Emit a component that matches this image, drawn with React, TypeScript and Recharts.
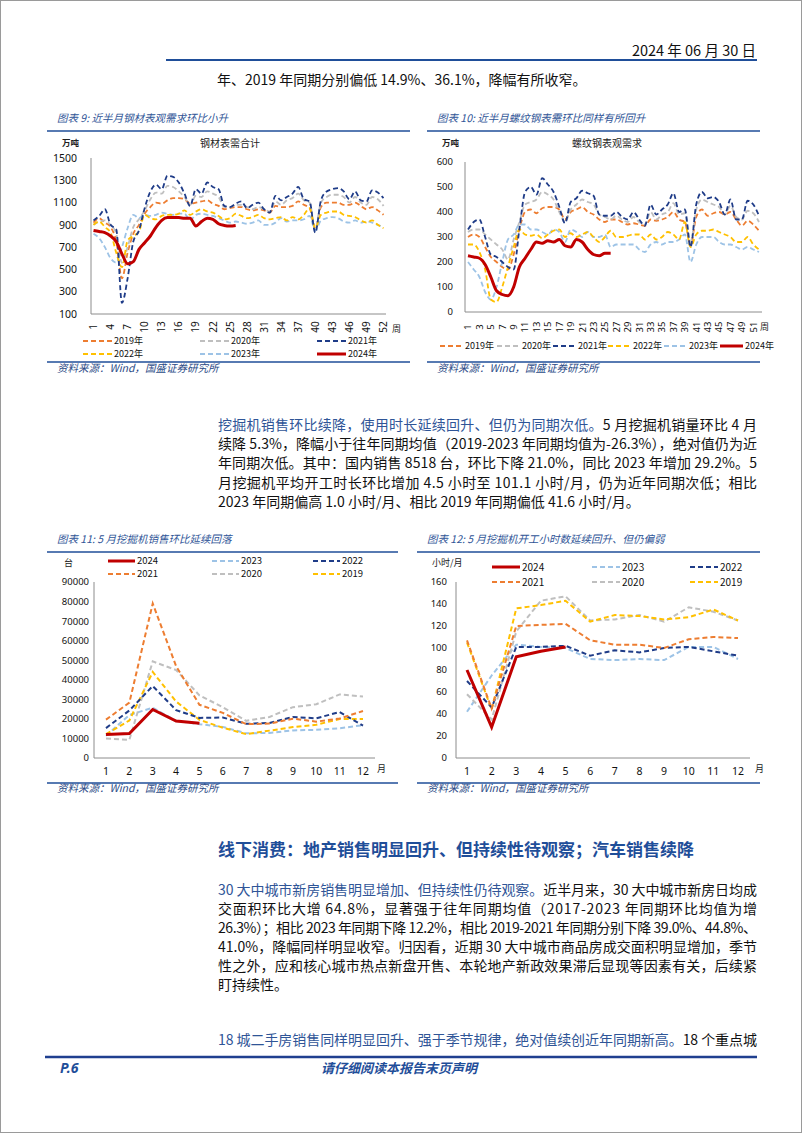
import React from 'react';
import { LineChart, Line, XAxis, YAxis } from 'recharts';

// ---------- categories ----------
const weekLabels = ['1','2','3','4','5','6','7','8','9','10','11','12','13','14','15','16','17','18','19','20','21','22','23','24','25','26','27','28','29','30','31','32','33','34','35','36','37','38','39','40','41','42','43','44','45','46','47','48','49','50','51','52'];
const monthLabels = ['1','2','3','4','5','6','7','8','9','10','11','12'];

// ---------- 图表9 钢材表需合计 (万吨) ----------
const steel2019 = [920,960,920,880,750,420,650,820,900,1000, 1060,1100,1090,1120,1140,1140,1130,1090,1100,1110, 1120,1090,1070,1040,1050,1060,1060,1040,1030,1040, 1030,1010,1070,1060,1060,1070,1110,1080,1050,870, 1060,1100,1100,1100,1080,1080,1100,1070,1040,1060, 1030,990];
const steel2020 = [900,930,940,900,820,560,700,880,950,1030, 1130,1190,1180,1250,1240,1200,1150,1080,1160,1150, 1200,1180,1150,1060,1060,1080,1080,1060,1040,1060, 1040,1020,1110,1080,1120,1140,1180,1120,1100,860, 1100,1150,1170,1170,1150,1100,1150,1100,1080,1150, 1130,1070];
const steel2021 = [940,980,1040,900,860,200,420,750,850,1050, 1200,1260,1220,1340,1330,1280,1180,1070,1220,1180, 1280,1240,1220,1070,1060,1090,1110,1050,1080,1100, 1040,1010,1160,1120,1150,1180,1240,1130,1110,830, 1120,1200,1220,1230,1200,1130,1200,1120,1110,1210, 1190,1140];
const steel2022 = [900,930,880,830,650,520,760,800,840,990, 960,950,980,990,990,1000,1030,990,1020,1040, 1020,1010,980,950,960,1000,980,960,970,990, 960,950,960,970,940,970,950,990,1050,870, 990,1010,1020,1020,990,980,970,940,920,940, 900,870];
const steel2023 = [820,780,700,600,560,700,870,990,960,990, 980,990,1010,1000,990,1000,1000,940,990,1000, 990,980,960,940,920,930,920,910,920,940, 900,900,920,960,930,940,940,950,980,850, 940,960,970,960,930,920,940,920,930,920, 900,880];
const steel2024 = [850,840,830,800,750,640,550,570,680,740, 800,880,940,965,965,965,960,960,890,930, 960,950,910,895,890,895];
const steelTicks = [100,300,500,700,900,1100,1300,1500];

// ---------- 图表10 螺纹钢表观需求 (万吨) ----------
const rebar2019 = [300,310,300,260,220,200,180,170,230,330, 400,410,395,415,420,420,410,370,400,410, 420,400,390,370,360,370,370,360,350,355, 350,345,370,365,370,380,400,370,360,270, 380,410,385,395,400,390,400,370,345,365, 350,325];
const rebar2020 = [320,330,330,310,290,270,250,210,290,360, 430,440,450,480,470,450,400,360,410,430, 450,440,430,390,380,370,385,370,360,380, 360,350,400,370,390,400,435,390,395,280, 410,450,440,430,420,390,425,380,370,405, 395,360];
const rebar2021 = [330,360,370,300,230,220,200,180,170,330, 480,500,470,535,510,480,420,355,440,455, 485,475,465,390,385,385,400,380,370,400, 370,345,430,390,410,430,475,400,410,260, 430,480,455,460,440,390,450,370,370,445, 430,385];
const rebar2022 = [270,270,240,170,50,40,100,180,260,330, 310,305,310,295,310,325,330,300,315,300, 310,320,300,280,300,325,300,300,305,310, 310,290,310,290,300,320,310,290,360,260, 310,325,325,330,320,310,300,280,280,300, 270,250];
const rebar2023 = [200,170,140,80,50,100,200,290,310,350, 350,330,330,320,310,330,320,280,330,320, 300,320,300,300,310,260,270,270,270,270, 250,240,270,280,270,280,280,290,310,200, 270,300,300,300,280,270,270,260,250,260, 250,240];
const rebar2024 = [225,220,215,190,140,85,70,65,100,180, 215,250,280,275,285,280,290,265,260,290, 280,250,230,225,235,235];
const rebarTicks = [0,100,200,300,400,500,600];

// ---------- 图表11 挖掘机销量 (台) ----------
const exc2024 = [12000,12500,24800,18900,17800];
const exc2023 = [11400,22000,25700,19000,17300,15900,12600,12800,14100,14400,15200,16800];
const exc2022 = [15300,24300,36800,24500,20500,20700,17500,17900,21000,20300,23500,16500];
const exc2021 = [19600,28300,79000,47000,27200,23100,17300,17600,20100,18600,20200,24000];
const exc2020 = [10000,9300,49400,45000,32000,26000,19000,21000,26000,27500,32500,31500];
const exc2019 = [12200,19200,44000,28900,19500,15500,12200,14000,15800,17000,19900,20000];
const excTicks = [0,10000,20000,30000,40000,50000,60000,70000,80000,90000];

// ---------- 图表12 挖掘机开工小时数 (小时/月) ----------
const hrs2024 = [80,28,92,97,101];
const hrs2023 = [42,75,103,101,100,90,89,90,89,101,101,90];
const hrs2022 = [70,46,101,101,102,93,98,96,100,101,97,93];
const hrs2021 = [107,45,120,121,122,107,103,103,100,108,110,109];
const hrs2020 = [58,35,115,143,147,125,126,130,124,137,133,125];
const hrs2019 = [105,44,136,139,143,124,130,129,126,128,135,125];
const hrsTicks = [0,20,40,60,80,100,120,140,160];

// ---------- colours / fonts ----------
const RED = '#C00000';
const ORANGE = '#ED7D31';
const GRAY = '#BFBFBF';
const NAVY = '#1F3C88';
const GOLD = '#FFC000';
const LBLUE = '#9DC3E6';
const BLUE = '#2F5597';
const RULE = '#1F4E99';
const AXIS = '#8C8C8C';
const CHART_FONT = '"Noto Sans", "DejaVu Sans", sans-serif';
const CJK_FONT = '"Noto Sans CJK SC", "Noto Sans", sans-serif';

type Series = { key: string; name: string; color: string; solid: boolean; values: number[] };

const pick = (arr: number[], i: number) => (i < arr.length ? arr[i] : null);
const buildRows = (labels: string[], series: Series[]) =>
  labels.map((label, i) => {
    const row: Record<string, any> = { label };
    series.forEach((s) => { row[s.key] = pick(s.values, i); });
    return row;
  });

const steelSeries: Series[] = [
  { key: 'y2019', name: '2019年', color: ORANGE, solid: false, values: steel2019 },
  { key: 'y2020', name: '2020年', color: GRAY, solid: false, values: steel2020 },
  { key: 'y2023', name: '2023年', color: LBLUE, solid: false, values: steel2023 },
  { key: 'y2022', name: '2022年', color: GOLD, solid: false, values: steel2022 },
  { key: 'y2021', name: '2021年', color: NAVY, solid: false, values: steel2021 },
  { key: 'y2024', name: '2024年', color: RED, solid: true, values: steel2024 },
];
const rebarSeries: Series[] = [
  { key: 'y2019', name: '2019年', color: ORANGE, solid: false, values: rebar2019 },
  { key: 'y2020', name: '2020年', color: GRAY, solid: false, values: rebar2020 },
  { key: 'y2023', name: '2023年', color: LBLUE, solid: false, values: rebar2023 },
  { key: 'y2022', name: '2022年', color: GOLD, solid: false, values: rebar2022 },
  { key: 'y2021', name: '2021年', color: NAVY, solid: false, values: rebar2021 },
  { key: 'y2024', name: '2024年', color: RED, solid: true, values: rebar2024 },
];
const excSeries: Series[] = [
  { key: 'y2023', name: '2023', color: LBLUE, solid: false, values: exc2023 },
  { key: 'y2020', name: '2020', color: GRAY, solid: false, values: exc2020 },
  { key: 'y2019', name: '2019', color: GOLD, solid: false, values: exc2019 },
  { key: 'y2022', name: '2022', color: NAVY, solid: false, values: exc2022 },
  { key: 'y2021', name: '2021', color: ORANGE, solid: false, values: exc2021 },
  { key: 'y2024', name: '2024', color: RED, solid: true, values: exc2024 },
];
const hrsSeries: Series[] = [
  { key: 'y2023', name: '2023', color: LBLUE, solid: false, values: hrs2023 },
  { key: 'y2020', name: '2020', color: GRAY, solid: false, values: hrs2020 },
  { key: 'y2019', name: '2019', color: GOLD, solid: false, values: hrs2019 },
  { key: 'y2022', name: '2022', color: NAVY, solid: false, values: hrs2022 },
  { key: 'y2021', name: '2021', color: ORANGE, solid: false, values: hrs2021 },
  { key: 'y2024', name: '2024', color: RED, solid: true, values: hrs2024 },
];

const steelRows = buildRows(weekLabels, steelSeries);
const rebarRows = buildRows(weekLabels, rebarSeries);
const excRows = buildRows(monthLabels, excSeries);
const hrsRows = buildRows(monthLabels, hrsSeries);

// legend layouts: [seriesKey, x of sample start, y]
const steelLegend: [string, number, number][] = [
  ['y2019', 83, 341], ['y2020', 200, 341], ['y2021', 317, 341],
  ['y2022', 83, 354], ['y2023', 200, 354], ['y2024', 317, 354],
];
const rebarLegend: [string, number, number][] = [
  ['y2019', 440, 346], ['y2020', 497, 346], ['y2021', 553, 346],
  ['y2022', 608, 346], ['y2023', 664, 346], ['y2024', 720, 346],
];
const excLegend: [string, number, number][] = [
  ['y2024', 108, 561], ['y2023', 212, 561], ['y2022', 313, 561],
  ['y2021', 108, 574], ['y2020', 212, 574], ['y2019', 313, 574],
];
const hrsLegend: [string, number, number][] = [
  ['y2024', 492, 567], ['y2023', 592, 567], ['y2022', 690, 567],
  ['y2021', 492, 582], ['y2020', 592, 582], ['y2019', 690, 582],
];

// ---------- ticks ----------
const yTick = (gap: number, size: number) => (p: any) => (
  <text x={p.x - gap} y={p.y} dy={size * 0.36} textAnchor="end" fontSize={size} fontFamily={CHART_FONT} fill="#111">
    {p.payload.value}
  </text>
);
const xTick = (off: number, size: number) => (p: any) => (
  <text x={p.x} y={p.y + off} dy={size * 0.36} textAnchor="middle" fontSize={size} fontFamily={CHART_FONT} fill="#111">
    {p.payload.value}
  </text>
);
const rotTick = (off: number, size: number) => (p: any) => (
  <g transform={`translate(${p.x},${p.y + off}) rotate(-90)`}>
    <text x={0} y={0} dy={size * 0.36} textAnchor="middle" fontSize={size} fontFamily={CHART_FONT} fill="#111">
      {p.payload.value}
    </text>
  </g>
);

const renderLines = (series: Series[], curve: 'monotone' | 'linear', dashW: number, solidW: number) =>
  series.map((s) => (
    <Line
      key={s.key}
      type={curve}
      dataKey={s.key}
      name={s.name}
      stroke={s.color}
      strokeWidth={s.solid ? solidW : dashW}
      strokeDasharray={s.solid ? undefined : '5 3'}
      dot={false}
      activeDot={false}
      isAnimationActive={false}
      connectNulls={false}
    />
  ));

function Legend({ series, layout, len, size }: { series: Series[]; layout: [string, number, number][]; len: number; size: number }) {
  return (
    <g>
      {layout.map(([key, x, y]) => {
        const s = series.find((q) => q.key === key)!;
        return (
          <g key={key}>
            <line x1={x} y1={y} x2={x + len} y2={y} stroke={s.color} strokeWidth={s.solid ? 3 : 2} strokeDasharray={s.solid ? undefined : '5 3'} />
            <text x={x + len + 2} y={y} dy={size * 0.36} fontSize={size} fontFamily={CJK_FONT} fill="#111">{s.name}</text>
          </g>
        );
      })}
    </g>
  );
}

// body text line drawn as SVG text; justified lines are stretched to the text column
function TL({ y, children, justify = true, left = 218, width = 539, size = 14, color = '#111', weight = 400 }: any) {
  return (
    <text
      x={left}
      y={y + size * 0.36}
      fontSize={size}
      fontFamily={CJK_FONT}
      fill={color}
      fontWeight={weight}
      {...(justify ? { textLength: width, lengthAdjust: 'spacing' } : {})}
      style={{ whiteSpace: 'pre' }}
    >
      {children}
    </text>
  );
}
const B = ({ children }: any) => <tspan fill={BLUE}>{children}</tspan>;

const titleStyle = (x: number, y: number): React.CSSProperties => ({
  position: 'absolute', left: x, top: y - 8, height: 16, lineHeight: '16px', fontSize: 10.5,
  fontStyle: 'italic', color: BLUE, fontFamily: CJK_FONT, whiteSpace: 'nowrap',
});
const sourceStyle = (x: number, y: number): React.CSSProperties => ({
  position: 'absolute', left: x, top: y - 8, height: 16, lineHeight: '16px', fontSize: 10.5,
  fontStyle: 'italic', color: '#2B4A86', fontFamily: CJK_FONT, whiteSpace: 'nowrap',
});

export default function App() {
  return (
    <div style={{ position: 'absolute', left: 0, top: 0, width: 802, height: 1133, background: '#fff', overflow: 'hidden' }}>
      <div style={{ position: 'absolute', left: 0, top: 0, width: 802, height: 1133, boxSizing: 'border-box', border: '1px solid #9a9a9a' }} />

      {/* header date */}
      <div style={{ position: 'absolute', right: 802 - 756, top: 40, height: 20, lineHeight: '20px', fontSize: 14.5, fontFamily: CJK_FONT, color: '#111', whiteSpace: 'nowrap' }}>
        2024 年 06 月 30 日
      </div>

      {/* chart titles & sources */}
      <div style={titleStyle(57, 118)}>图表 9:  近半月钢材表观需求环比小升</div>
      <div style={titleStyle(437, 118)}>图表 10:  近半月螺纹钢表需环比同样有所回升</div>
      <div style={titleStyle(57, 539)}>图表 11:  5 月挖掘机销售环比延续回落</div>
      <div style={titleStyle(427, 539)}>图表 12:  5 月挖掘机开工小时数延续回升、但仍偏弱</div>
      <div style={sourceStyle(57, 368)}>资料来源：Wind，国盛证券研究所</div>
      <div style={sourceStyle(437, 368)}>资料来源：Wind，国盛证券研究所</div>
      <div style={sourceStyle(57, 788)}>资料来源：Wind，国盛证券研究所</div>
      <div style={sourceStyle(427, 788)}>资料来源：Wind，国盛证券研究所</div>

      {/* chart 9 */}
      <div style={{ position: 'absolute', left: 40, top: 140 }}>
        <LineChart width={370} height={210} data={steelRows} margin={{ top: 18, right: 24, left: 0, bottom: 0 }}>
          <XAxis dataKey="label" interval={2} height={36} padding={{ left: 2.5, right: 2.5 }} tickSize={0} tickMargin={0} tickLine={false} axisLine={{ stroke: AXIS }} tick={rotTick(13, 10)} />
          <YAxis width={51} type="number" domain={[100, 1500]} ticks={steelTicks} interval={0} tickSize={0} tickMargin={0} tickLine={false} axisLine={{ stroke: AXIS }} tick={yTick(14, 10.5)} allowDataOverflow />
          {renderLines(steelSeries, 'monotone', 1.8, 3)}
        </LineChart>
      </div>

      {/* chart 10 */}
      <div style={{ position: 'absolute', left: 410, top: 140 }}>
        <LineChart width={370} height={210} data={rebarRows} margin={{ top: 22, right: 18, left: 0, bottom: 0 }}>
          <XAxis dataKey="label" interval={1} height={38} padding={{ left: 3, right: 3 }} tickSize={0} tickMargin={0} tickLine={false} axisLine={{ stroke: AXIS }} tick={rotTick(15, 9.5)} />
          <YAxis width={55} type="number" domain={[0, 600]} ticks={rebarTicks} interval={0} tickSize={0} tickMargin={0} tickLine={false} axisLine={{ stroke: AXIS }} tick={yTick(12, 9.5)} allowDataOverflow />
          {renderLines(rebarSeries, 'monotone', 1.8, 3)}
        </LineChart>
      </div>

      {/* chart 11 */}
      <div style={{ position: 'absolute', left: 40, top: 575 }}>
        <LineChart width={370} height={205} data={excRows} margin={{ top: 7, right: 35, left: 0, bottom: 0 }}>
          <XAxis dataKey="label" interval={0} height={22} padding={{ left: 12, right: 12 }} tickSize={0} tickMargin={0} tickLine={false} axisLine={{ stroke: AXIS }} tick={xTick(13, 10.5)} />
          <YAxis width={54} type="number" domain={[0, 90000]} ticks={excTicks} interval={0} tickSize={0} tickMargin={0} tickLine={false} axisLine={{ stroke: AXIS }} tick={yTick(5, 9.5)} allowDataOverflow />
          {renderLines(excSeries, 'linear', 2, 3)}
        </LineChart>
      </div>

      {/* chart 12 */}
      <div style={{ position: 'absolute', left: 410, top: 575 }}>
        <LineChart width={370} height={205} data={hrsRows} margin={{ top: 7, right: 30, left: 0, bottom: 0 }}>
          <XAxis dataKey="label" interval={0} height={22} padding={{ left: 11, right: 12 }} tickSize={0} tickMargin={0} tickLine={false} axisLine={{ stroke: AXIS }} tick={xTick(13, 10.5)} />
          <YAxis width={46} type="number" domain={[0, 160]} ticks={hrsTicks} interval={0} tickSize={0} tickMargin={0} tickLine={false} axisLine={{ stroke: AXIS }} tick={yTick(9, 9.5)} allowDataOverflow />
          {renderLines(hrsSeries, 'linear', 2, 3)}
        </LineChart>
      </div>

      {/* overlay: rules, legends, unit labels, body text */}
      <svg width={802} height={1133} style={{ position: 'absolute', left: 0, top: 0, pointerEvents: 'none' }}>
        <line x1={166} y1={60} x2={757} y2={60} stroke={RULE} strokeWidth={2} />
        <line x1={47} y1={131} x2={410} y2={131} stroke={RULE} strokeWidth={1.5} />
        <line x1={427} y1={131} x2={760} y2={131} stroke={RULE} strokeWidth={1.5} />
        <line x1={47} y1={362} x2={410} y2={362} stroke={RULE} strokeWidth={1.5} />
        <line x1={427} y1={362} x2={760} y2={362} stroke={RULE} strokeWidth={1.5} />
        <line x1={47} y1={552} x2={398} y2={552} stroke={RULE} strokeWidth={1.5} />
        <line x1={417} y1={552} x2={760} y2={552} stroke={RULE} strokeWidth={1.5} />
        <line x1={47} y1={783} x2={398} y2={783} stroke={RULE} strokeWidth={1.5} />
        <line x1={417} y1={783} x2={760} y2={783} stroke={RULE} strokeWidth={1.5} />
        <line x1={45} y1={1057} x2={757} y2={1057} stroke="#1F3F8F" strokeWidth={2.5} />

        <text x={62} y={143} dy={3} fontSize={8.5} fontWeight={700} fontFamily={CJK_FONT} fill="#222">万吨</text>
        <text x={230} y={143} dy={3.5} fontSize={10} textAnchor="middle" fontFamily={CJK_FONT} fill="#222">钢材表需合计</text>
        <text x={392} y={329} dy={3} fontSize={9} fontFamily={CJK_FONT} fill="#222">周</text>
        <text x={442} y={143} dy={3} fontSize={8.5} fontWeight={700} fontFamily={CJK_FONT} fill="#222">万吨</text>
        <text x={607} y={143} dy={3.5} fontSize={10} textAnchor="middle" fontFamily={CJK_FONT} fill="#222">螺纹钢表观需求</text>
        <text x={760} y={327} dy={3} fontSize={9} fontFamily={CJK_FONT} fill="#222">周</text>
        <text x={64} y={563} dy={3} fontSize={9} fontFamily={CJK_FONT} fill="#222">台</text>
        <text x={377} y={769} dy={3} fontSize={9} fontFamily={CJK_FONT} fill="#222">月</text>
        <text x={432} y={563} dy={3} fontSize={9} fontFamily={CJK_FONT} fill="#222">小时/月</text>
        <text x={755} y={769} dy={3} fontSize={9} fontFamily={CJK_FONT} fill="#222">月</text>

        <Legend series={steelSeries} layout={steelLegend} len={29} size={9} />
        <Legend series={rebarSeries} layout={rebarLegend} len={23} size={9} />
        <Legend series={excSeries} layout={excLegend} len={27} size={9.5} />
        <Legend series={hrsSeries} layout={hrsLegend} len={28} size={10} />

        {/* top carry-over line */}
        <TL y={80} justify={false} left={217}>年、2019 年同期分别偏低 14.9%、36.1%，降幅有所收窄。</TL>

        {/* paragraph 1 */}
        <TL y={425}><B>挖掘机销售环比续降，使用时长延续回升、但仍为同期次低。</B>5 月挖掘机销量环比 4 月</TL>
        <TL y={444}>续降 5.3%，降幅小于往年同期均值（2019-2023 年同期均值为-26.3%），绝对值仍为近</TL>
        <TL y={463}>年同期次低。其中：国内销售 8518 台，环比下降 21.0%，同比 2023 年增加 29.2%。5</TL>
        <TL y={483}>月挖掘机平均开工时长环比增加 4.5 小时至 101.1 小时/月，仍为近年同期次低；相比</TL>
        <TL y={502} justify={false}>2023 年同期偏高 1.0 小时/月、相比 2019 年同期偏低 41.6 小时/月。</TL>

        {/* heading */}
        <TL y={850} justify={false} size={17} weight={700} color={RULE}>线下消费：地产销售明显回升、但持续性待观察；汽车销售续降</TL>

        {/* paragraph 2 */}
        <TL y={890}><B>30 大中城市新房销售明显增加、但持续性仍待观察。</B>近半月来，30 大中城市新房日均成</TL>
        <TL y={909}>交面积环比大增 64.8%，显著强于往年同期均值（2017-2023 年同期环比均值为增</TL>
        <TL y={928}>26.3%）；相比 2023 年同期下降 12.2%，相比 2019-2021 年同期分别下降 39.0%、44.8%、</TL>
        <TL y={947}>41.0%，降幅同样明显收窄。归因看，近期 30 大中城市商品房成交面积明显增加，季节</TL>
        <TL y={966}>性之外，应和核心城市热点新盘开售、本轮地产新政效果滞后显现等因素有关，后续紧</TL>
        <TL y={985} justify={false}>盯持续性。</TL>

        {/* paragraph 3 */}
        <TL y={1040}><B>18 城二手房销售同样明显回升、强于季节规律，绝对值续创近年同期新高。</B>18 个重点城</TL>
      </svg>

      {/* footer */}
      <div style={{ position: 'absolute', left: 60, top: 1059, height: 18, lineHeight: '18px', fontSize: 14, fontWeight: 700, fontStyle: 'italic', color: RULE, fontFamily: CHART_FONT }}>P.6</div>
      <div style={{ position: 'absolute', left: 318, top: 1059, width: 162, height: 18, lineHeight: '18px', fontSize: 13, fontWeight: 700, fontStyle: 'italic', color: RULE, fontFamily: CJK_FONT, textAlign: 'center', whiteSpace: 'nowrap' }}>请仔细阅读本报告末页声明</div>
    </div>
  );
}
